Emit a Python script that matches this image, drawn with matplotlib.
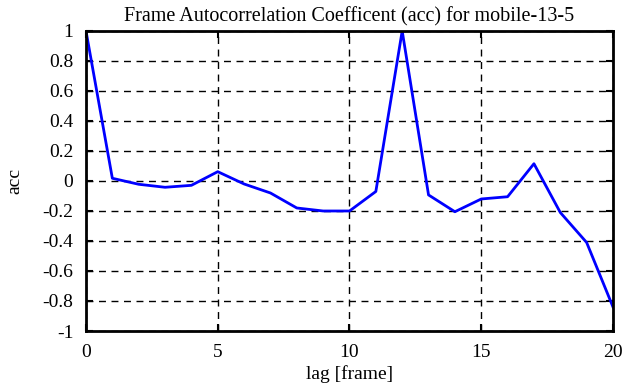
import numpy as np
import matplotlib.pyplot as plt

plt.rcParams["font.family"] = ["Liberation Serif", "DejaVu Serif"]

lag = np.arange(0, 21)
acc = [1.0, 0.018, -0.022, -0.042, -0.029, 0.062, -0.02, -0.08, -0.18, -0.2, -0.2,
       -0.07, 1.0, -0.093, -0.205, -0.12, -0.105, 0.115, -0.21, -0.41, -0.84]

fig = plt.figure(figsize=(6.3, 3.87), dpi=100)
ax = fig.add_axes([0.1365, 0.1447, 0.8365, 0.7753])
ax.plot(lag, acc, color="#0000ff", lw=2)

ax.set_xlim(0, 20)
ax.set_ylim(-1, 1)
ax.set_xticks([0, 5, 10, 15, 20])
ax.set_yticks(np.round(np.arange(-1, 1.01, 0.2), 1))
ax.set_yticklabels(["-1", "-0.8", "-0.6", "-0.4", "-0.2", "0", "0.2", "0.4", "0.6", "0.8", "1"])
ax.grid(True, color="black", ls=(0, (5, 4)), lw=1)
ax.tick_params(direction="in", top=True, right=True, length=5, width=1.5, labelsize=14)
ax.tick_params(axis="y", pad=9)
ax.tick_params(axis="x", pad=9)
for s in ax.spines.values():
    s.set_linewidth(2)

ax.set_title("Frame Autocorrelation Coefficent (acc) for mobile-13-5", fontsize=14.5, pad=7)
ax.set_xlabel("lag [frame]", fontsize=14, labelpad=3)
ax.set_ylabel("acc", fontsize=14, labelpad=14)

fig.savefig("out.png", dpi=100)
